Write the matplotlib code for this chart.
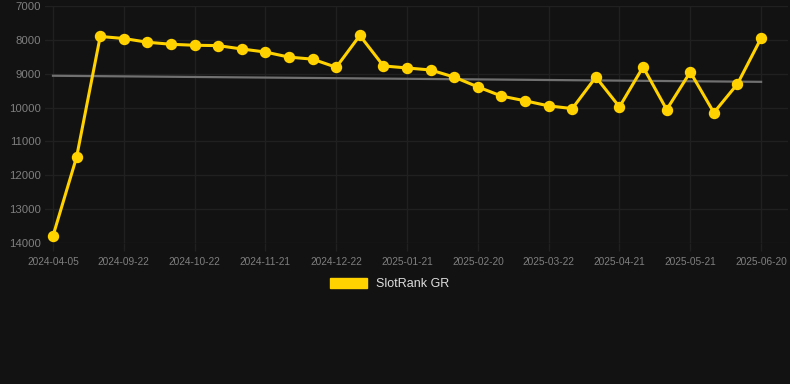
import matplotlib.pyplot as plt
from matplotlib.patches import Patch

dates = ["2024-04-05", "2024-09-02", "2024-09-12", "2024-09-22", "2024-10-02",
         "2024-10-12", "2024-10-22", "2024-11-01", "2024-11-11", "2024-11-21",
         "2024-12-01", "2024-12-11", "2024-12-22", "2025-01-01", "2025-01-11",
         "2025-01-21", "2025-01-31", "2025-02-10", "2025-02-20", "2025-03-02",
         "2025-03-12", "2025-03-22", "2025-04-01", "2025-04-11", "2025-04-21",
         "2025-05-01", "2025-05-11", "2025-05-21", "2025-05-31", "2025-06-10",
         "2025-06-20"]
rank = [13790, 11460, 7900, 7960, 8070, 8130, 8160, 8170, 8270, 8360,
        8510, 8570, 8810, 7870, 8770, 8830, 8890, 9100, 9390, 9660,
        9800, 9950, 10030, 9100, 9980, 8800, 10060, 8950, 10150, 9300,
        7950]
trend = [9060, 9240]

bg = "#121212"
grid = "#202020"
yellow = "#FFD200"

fig = plt.figure(figsize=(7.9, 3.84), dpi=100, facecolor=bg)
ax = fig.add_axes([45 / 790, 1 - 243 / 384, 743 / 790, 237 / 384])
ax.set_facecolor(bg)

x = list(range(len(rank)))
ax.plot([x[0], x[-1]], trend, color="#707070", lw=1.6, zorder=2)
ax.plot(x, rank, color=yellow, lw=2.2, marker="o", ms=7.2, zorder=3)

ax.set_ylim(14000, 7000)
ax.set_yticks(range(7000, 14001, 1000))
ax.set_xlim(-0.339, 31.14)
ax.set_xticks(x[::3])
ax.set_xticklabels(dates[::3])

ax.grid(True, color=grid, lw=1)
for s in ax.spines.values():
    s.set_visible(False)
ax.tick_params(axis="x", colors=grid, labelcolor="#7f7f7f", labelsize=7.3,
               length=6, width=1, pad=4)
ax.tick_params(axis="y", length=0, labelcolor="#7f7f7f", labelsize=8.2, pad=3)
for lab in ax.get_xticklabels() + ax.get_yticklabels():
    lab.set_family("Liberation Sans")

leg = fig.legend(handles=[Patch(color=yellow, label="SlotRank GR")],
                 loc="center", bbox_to_anchor=(390 / 790, 1 - 284 / 384),
                 frameon=False, handlelength=2.9, handleheight=0.9,
                 prop={"family": "Liberation Sans", "size": 9})
for t in leg.get_texts():
    t.set_color("#dddddd")

fig.savefig("out.png", facecolor=bg)
